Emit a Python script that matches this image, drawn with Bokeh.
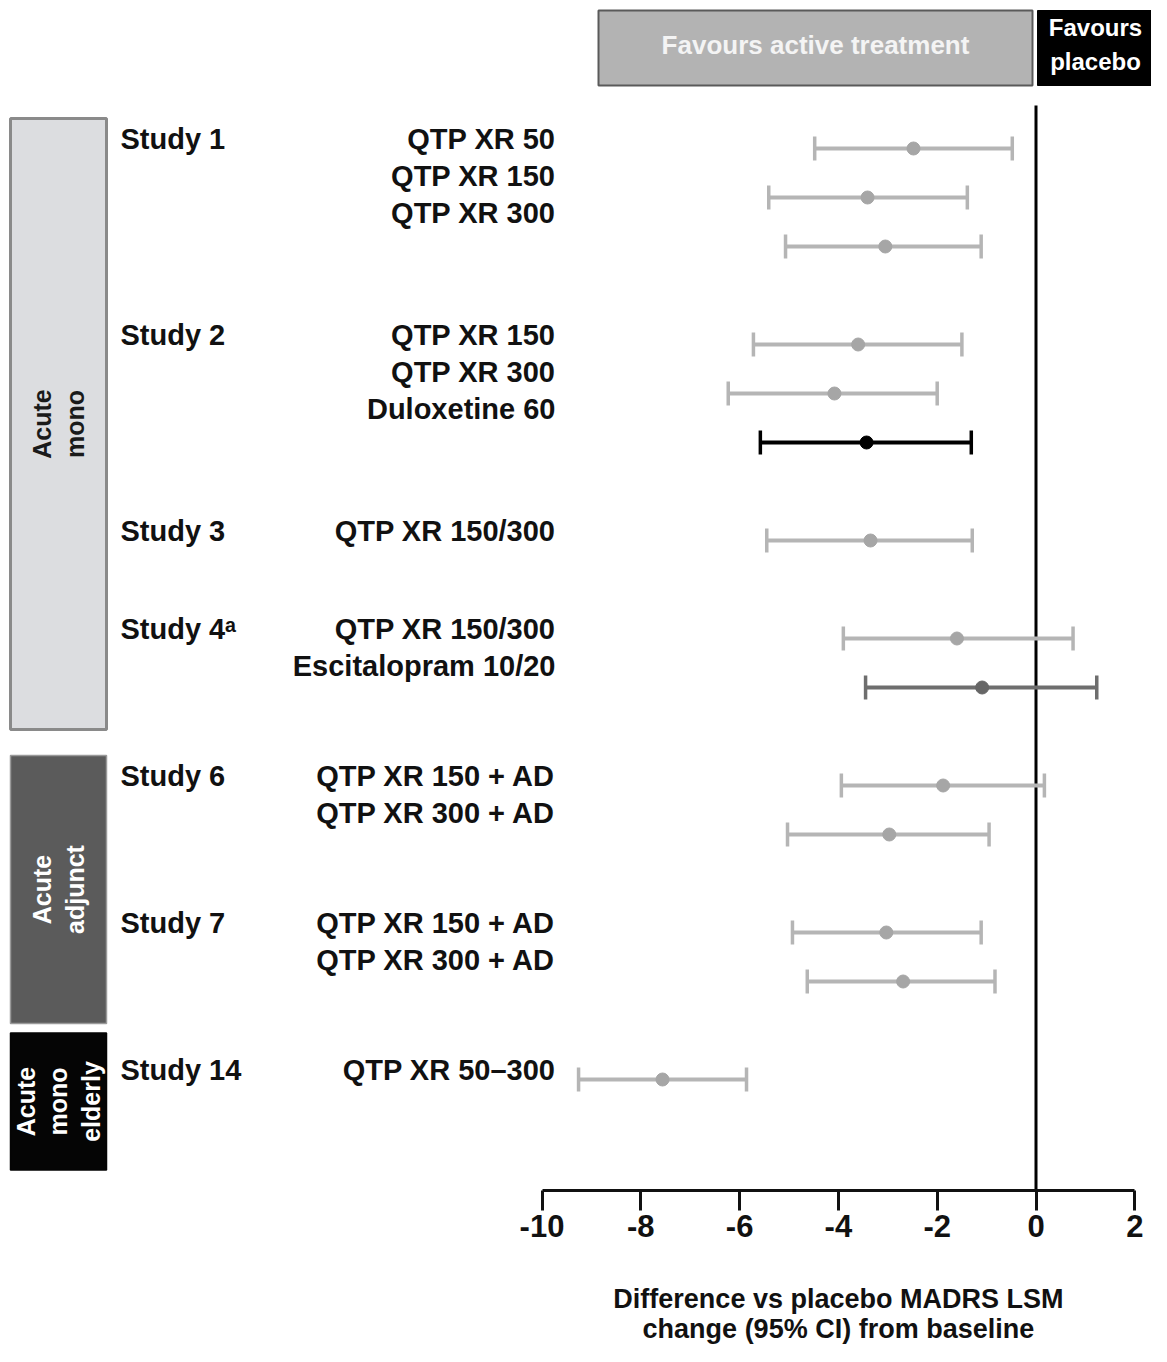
import numpy as np
from bokeh.plotting import figure
from bokeh.layouts import column
from bokeh.models import (Range1d, LinearAxis, FixedTicker, ColumnDataSource,
                          PrintfTickFormatter)
from bokeh.core.properties import value
from bokeh.embed import file_html
from bokeh.resources import INLINE

# ---------------- data ----------------
study_names = ["Study 1", "Study 2", "Study 3", "Study 4\u1d43", "Study 6", "Study 7", "Study 14"]
group_names = ["Acute\nmono", "Acute\nadjunct", "Acute\nmono\nelderly"]
study_group = [0, 0, 0, 0, 1, 1, 2]

row_study = [0, 0, 0, 1, 1, 1, 2, 3, 3, 4, 4, 5, 5, 6]
row_treatment = ["QTP XR 50", "QTP XR 150", "QTP XR 300",
                 "QTP XR 150", "QTP XR 300", "Duloxetine 60",
                 "QTP XR 150/300",
                 "QTP XR 150/300", "Escitalopram 10/20",
                 "QTP XR 150 + AD", "QTP XR 300 + AD",
                 "QTP XR 150 + AD", "QTP XR 300 + AD",
                 "QTP XR 50\u2013300"]
row_kind = ["QTP", "QTP", "QTP", "QTP", "QTP", "Duloxetine", "QTP",
            "QTP", "Escitalopram", "QTP", "QTP", "QTP", "QTP", "QTP"]
row_est = [-2.48, -3.41, -3.05, -3.60, -4.08, -3.43, -3.35, -1.60, -1.09, -1.88, -2.97, -3.03, -2.69, -7.56]
row_lo = [-4.48, -5.41, -5.07, -5.72, -6.23, -5.58, -5.45, -3.90, -3.45, -3.94, -5.03, -4.93, -4.63, -9.26]
row_hi = [-0.48, -1.39, -1.11, -1.50, -2.00, -1.31, -1.29, 0.75, 1.23, 0.17, -0.95, -1.11, -0.83, -5.86]

tick_values = [-10, -8, -6, -4, -2, 0, 2]
header_left = "Favours active treatment"
header_right = "Favours\nplacebo"
x_title_lines = ["Difference vs placebo MADRS LSM", "change (95% CI) from baseline"]

# ---------------- layout / style ----------------
W = 1151
FRAME_H = 1190          # main plotting frame height (axis line sits at its bottom)
AXIS_H = 62             # room for ticks + tick labels
TITLE_H = 94            # strip holding the two-line axis title
PX_PER_UNIT = 49.4
X_ZERO_PX = 1035.5
FONT = "Liberation Sans"

def px(cx):
    return (cx - X_ZERO_PX) / PX_PER_UNIT

kind_line = {"QTP": "#b5b5b5", "Duloxetine": "#000000", "Escitalopram": "#6e6e6e"}
kind_dot = {"QTP": "#a6a6a6", "Duloxetine": "#000000", "Escitalopram": "#666666"}

# row vertical positions: uniform step, extra gap between studies
Y0, STEP, GAP = 148, 49, 2.0
slots = []
s = 0.0
for i, st in enumerate(row_study):
    if i > 0:
        s += 1.0 if st == row_study[i - 1] else GAP
    slots.append(s)
row_y = [Y0 + STEP * v for v in slots]

xr = Range1d(px(0), px(W))
p = figure(width=W, height=FRAME_H + AXIS_H, output_backend="svg", toolbar_location=None,
           x_range=xr, y_range=Range1d(FRAME_H, 0),
           x_axis_location=None, y_axis_location=None, title=None,
           min_border_left=0, min_border_right=0, min_border_top=0,
           min_border_bottom=AXIS_H)
p.outline_line_color = None
p.xgrid.visible = False
p.ygrid.visible = False

# ---- group boxes on the left ----
gx0, gx1 = px(10), px(106)
for g, gname in enumerate(group_names):
    ys = [row_y[i] for i in range(len(row_study)) if study_group[row_study[i]] == g]
    top, bot = min(ys) - 30, max(ys) + 42
    if bot - top < 137:
        c = (min(ys) + max(ys)) / 2 + 22
        top, bot = c - 68.5, c + 68.5
    fill = ["#dcdde0", "#5b5b5b", "#050505"][g]
    edge = ["#8a8a8a", "#9a9a9a", "#050505"][g]
    tcol = ["#1a1a1a", "#ffffff", "#ffffff"][g]
    p.quad(left=[gx0], right=[gx1], top=[top], bottom=[bot], fill_color=fill,
           line_color=edge, line_width=3 if g == 0 else 1.5)
    p.text(x=[(gx0 + gx1) / 2], y=[(top + bot) / 2], text=[gname], angle=np.pi / 2,
           text_align="center", text_baseline="middle", text_color=tcol,
           text_font=value(FONT), text_font_style="bold", text_font_size="25px",
           text_line_height=1.15)

# ---- study and treatment labels ----
LABEL_OFF, LABEL_LINE = -10, 37
first_row = {}
for i, st in enumerate(row_study):
    first_row.setdefault(st, i)
lab_x, lab_y, lab_t = [], [], []
for st, i0 in first_row.items():
    lab_x.append(px(120))
    lab_y.append(row_y[i0] + LABEL_OFF)
    lab_t.append(study_names[st])
p.text(x=lab_x, y=lab_y, text=lab_t, text_align="left", text_baseline="middle",
       text_color="#111111", text_font=value(FONT), text_font_style="bold",
       text_font_size="29px")

tr_x, tr_y, tr_t = [], [], []
for i, st in enumerate(row_study):
    k = i - first_row[st]
    tr_x.append(px(555))
    tr_y.append(row_y[first_row[st]] + LABEL_OFF + k * LABEL_LINE)
    tr_t.append(row_treatment[i])
p.text(x=tr_x, y=tr_y, text=tr_t, text_align="right", text_baseline="middle",
       text_color="#111111", text_font=value(FONT), text_font_style="bold",
       text_font_size="29px")

# ---- header boxes ----
p.quad(left=[px(598)], right=[px(1032)], top=[10], bottom=[85], fill_color="#b3b3b3",
       line_color="#5a5a5a", line_width=2)
p.text(x=[(px(598) + px(1032)) / 2], y=[44], text=[header_left], text_align="center",
       text_baseline="middle", text_color="#f4f4f4", text_font=value(FONT),
       text_font_style="bold", text_font_size="26px")
p.quad(left=[px(1037)], right=[px(W + 20)], top=[10], bottom=[85], fill_color="#000000",
       line_color="#000000")
p.text(x=[px(1095)], y=[44], text=[header_right], text_align="center",
       text_baseline="middle", text_color="#ffffff", text_font=value(FONT),
       text_font_style="bold", text_font_size="24px", text_line_height=1.25)

# ---- zero line ----
p.segment(x0=[0], x1=[0], y0=[105], y1=[FRAME_H], line_color="#000000", line_width=3)

# ---- error bars ----
src = ColumnDataSource(dict(
    y=row_y, lo=row_lo, hi=row_hi, est=row_est,
    ytop=[v - 12 for v in row_y], ybot=[v + 12 for v in row_y],
    lc=[kind_line[k] for k in row_kind], dc=[kind_dot[k] for k in row_kind],
))
p.segment(x0="lo", x1="hi", y0="y", y1="y", line_color="lc", line_width=4, source=src)
p.segment(x0="lo", x1="lo", y0="ytop", y1="ybot", line_color="lc", line_width=3.5, source=src)
p.segment(x0="hi", x1="hi", y0="ytop", y1="ybot", line_color="lc", line_width=3.5, source=src)
p.scatter(x="est", y="y", size=13, marker="circle", fill_color="dc", line_color="dc", source=src)

# ---- x axis ----
xaxis = LinearAxis(bounds=(min(tick_values), max(tick_values)),
                   ticker=FixedTicker(ticks=tick_values),
                   formatter=PrintfTickFormatter(format="%d"))
xaxis.axis_line_width = 3
xaxis.axis_line_color = "#111111"
xaxis.major_tick_line_width = 3
xaxis.major_tick_line_color = "#111111"
xaxis.major_tick_out = 20
xaxis.major_tick_in = 0
xaxis.minor_tick_line_color = None
xaxis.major_label_text_font = FONT
xaxis.major_label_text_font_style = "bold"
xaxis.major_label_text_font_size = "31px"
xaxis.major_label_text_color = "#111111"
xaxis.major_label_standoff = 4
p.add_layout(xaxis, "below")

# ---- axis title strip (shares the x scale) ----
top_t = FRAME_H + AXIS_H
p2 = figure(width=W, height=TITLE_H, output_backend="svg", toolbar_location=None,
            x_range=xr, y_range=Range1d(top_t + TITLE_H, top_t),
            x_axis_location=None, y_axis_location=None, title=None,
            min_border_left=0, min_border_right=0, min_border_top=0, min_border_bottom=0)
p2.outline_line_color = None
p2.xgrid.visible = False
p2.ygrid.visible = False
title_x = (min(tick_values) + max(tick_values)) / 2
p2.text(x=[title_x, title_x], y=[1298, 1328], text=x_title_lines, text_align="center",
        text_baseline="middle", text_color="#111111", text_font=value(FONT),
        text_font_style="bold", text_font_size="27px")

layout = column(p, p2, spacing=0)
open("out.html", "w").write(file_html(layout, INLINE))
